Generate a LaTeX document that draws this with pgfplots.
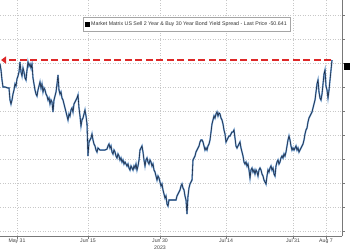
\documentclass[border=0pt]{standalone}
\usepackage{pgfplots}
\pgfplotsset{compat=1.18}
\usepackage{fontspec}
\setmainfont{Liberation Sans}
\usetikzlibrary{arrows.meta}
\definecolor{gridc}{RGB}{200,200,200}
\definecolor{axc}{RGB}{120,120,120}
\definecolor{seriesglow}{RGB}{110,155,205}
\definecolor{seriesc}{RGB}{18,32,55}
\definecolor{reddash}{RGB}{222,40,40}
\pgfplotstableread{
x y
0 -50.21
1 -51.46
2 -53.54
3 -55.00
5 -55.00
8 -55.21
9 -55.21
10 -57.71
11 -58.54
12 -57.71
13 -56.46
14 -55.63
15 -54.38
16 -54.79
17 -53.33
18 -52.71
19 -51.88
20 -49.79
21 -51.88
22 -52.71
23 -51.04
24 -51.88
25 -53.13
26 -53.54
27 -51.46
28 -49.79
29 -50.63
30 -50.21
31 -51.04
32 -50.21
33 -53.13
34 -54.38
35 -55.63
36 -56.46
37 -56.88
38 -55.63
39 -54.79
40 -53.96
41 -55.21
42 -54.38
43 -56.04
44 -55.21
45 -55.63
46 -56.46
47 -56.88
48 -57.71
49 -57.29
50 -58.54
51 -57.71
52 -58.13
53 -60.21
54 -57.71
55 -56.88
56 -56.04
57 -54.38
58 -52.50
59 -55.63
60 -56.46
61 -56.04
62 -57.29
63 -57.71
64 -58.54
65 -59.38
66 -60.21
67 -61.04
68 -61.88
69 -60.63
70 -61.04
71 -59.79
72 -59.38
73 -60.21
74 -58.54
75 -58.13
76 -57.71
77 -57.29
78 -56.67
79 -59.38
80 -61.04
81 -63.13
82 -61.88
83 -61.46
84 -60.63
85 -59.79
86 -61.04
87 -62.71
88 -69.38
89 -66.46
90 -66.04
91 -65.63
92 -64.79
93 -66.04
94 -66.88
95 -67.29
96 -68.13
97 -68.54
98 -67.71
99 -67.92
100 -68.13
102 -68.13
105 -68.13
107 -67.92
108 -67.29
109 -66.88
110 -67.71
111 -67.29
112 -68.54
113 -68.96
114 -68.13
115 -68.54
116 -69.38
117 -69.79
118 -68.96
119 -69.38
120 -70.21
121 -69.79
122 -70.63
123 -70.21
124 -71.04
125 -70.63
126 -71.04
127 -71.46
128 -71.04
129 -71.88
130 -72.29
131 -71.46
132 -71.88
133 -72.29
134 -71.46
135 -71.88
136 -71.04
137 -72.29
138 -71.46
139 -70.21
140 -68.13
141 -67.71
142 -67.29
143 -68.54
144 -70.21
145 -71.46
146 -70.21
147 -69.79
148 -70.63
149 -71.04
150 -70.21
151 -70.63
152 -71.46
153 -71.04
154 -72.29
155 -72.71
156 -73.54
157 -74.38
158 -73.54
159 -73.96
160 -74.79
161 -75.63
162 -75.21
163 -76.46
164 -77.29
165 -78.13
166 -77.71
167 -79.38
168 -79.79
169 -78.54
170 -78.54
173 -78.54
176 -78.54
177 -77.71
178 -77.29
179 -76.88
180 -76.46
181 -75.63
182 -75.21
183 -76.04
184 -76.46
185 -77.71
186 -78.54
187 -81.46
188 -77.71
189 -76.04
190 -75.21
191 -74.79
192 -74.38
193 -70.21
194 -69.79
195 -69.38
196 -68.54
197 -68.13
198 -67.71
199 -67.29
200 -66.46
201 -66.04
202 -66.04
203 -66.46
204 -67.29
205 -68.13
206 -67.71
207 -68.13
208 -67.29
209 -66.88
210 -66.04
211 -64.38
212 -62.71
213 -61.88
214 -61.04
215 -61.46
216 -60.63
217 -60.21
218 -61.04
219 -60.42
220 -60.63
221 -61.46
222 -61.88
223 -62.71
224 -63.96
225 -64.79
226 -66.46
227 -66.04
228 -65.63
229 -65.21
230 -65.21
231 -64.79
232 -64.38
233 -64.38
234 -63.96
235 -65.63
236 -67.29
237 -67.71
238 -67.29
239 -66.88
240 -66.46
241 -67.71
242 -68.54
243 -69.38
244 -70.63
245 -71.04
246 -70.63
247 -71.46
248 -71.04
249 -72.29
250 -73.96
251 -72.29
252 -71.88
253 -72.71
254 -72.29
255 -73.13
256 -72.29
257 -72.71
258 -73.54
259 -72.29
260 -71.88
261 -72.29
262 -73.13
263 -73.54
264 -74.38
265 -74.79
266 -75.21
267 -73.54
268 -72.29
269 -72.71
270 -71.88
271 -71.46
272 -72.29
273 -71.88
274 -73.13
275 -73.54
276 -71.46
277 -70.63
278 -70.21
279 -71.04
280 -70.63
281 -69.79
282 -69.38
283 -69.79
284 -68.96
285 -69.38
286 -68.54
287 -67.29
288 -66.04
289 -65.21
290 -66.04
291 -67.29
292 -68.13
293 -67.71
294 -68.13
295 -67.71
296 -67.29
297 -68.13
298 -67.71
299 -68.54
300 -68.13
301 -67.71
302 -67.29
303 -66.88
304 -66.04
305 -64.79
306 -63.96
307 -63.54
308 -62.29
309 -61.46
310 -61.04
311 -60.63
312 -60.21
313 -59.38
314 -58.54
315 -57.71
316 -56.04
317 -54.38
318 -53.54
319 -56.04
320 -57.29
321 -57.71
322 -56.46
323 -54.38
324 -52.29
325 -51.46
326 -54.79
327 -55.63
328 -57.29
329 -55.63
330 -53.54
331 -51.46
332 -49.38
}\spread
\begin{document}
\begin{tikzpicture}
\begin{axis}[
  at={(0,0)}, anchor=north west,
  scale only axis, width=342bp, height=236bp,
  xmin=0, xmax=342, ymin=-86.04, ymax=-36.875,
  axis x line*=bottom, axis y line*=right,
  axis line style={-, draw=axc, line width=0.6bp},
  xtick={17,88,160,226,293,326},
  xticklabels={May 31, Jun 15, {Jun 30\\2023}, Jul 14, Jul 31, Aug 7},
  minor x tick num=3,
  ytick={-85,-80,-75,-70,-65,-60,-55,-50,-45,-40},
  yticklabel=\empty,
  tick align=outside,
  major tick length=2.5bp, minor tick length=1.5bp,
  tick style={draw=axc, line width=0.5bp},
  xticklabel style={align=center, font=\fontsize{5.2}{6.6}\selectfont, text=black!75, inner sep=0.3bp},
  xmajorgrids, ymajorgrids,
  grid style={draw=gridc, line width=0.6bp, dash pattern=on 1bp off 1.5bp},
  clip=false,
  legend style={at={(0.2427,0.926)}, anchor=north west, draw=gray!70, fill=white,
    font=\fontsize{5.3}{6}\selectfont, text=black!80, inner xsep=1.5bp, inner ysep=2.2bp},
  legend cell align=left,
]
\addplot[seriesglow, line width=1.6bp, forget plot] table[x=x, y=y] {\spread};
\addplot[seriesc, line width=0.55bp, legend image code/.code={\fill[black] (0bp,-2bp) rectangle (4bp,2bp);}] table[x=x, y=y] {\spread};
\addlegendentry{Market Matrix US Sell 2 Year \& Buy 30 Year Bond Yield Spread - Last Price -50.641}
\addplot[reddash, line width=2bp, dash pattern=on 7bp off 3.5bp, -{Triangle[length=5bp,width=7bp]}, forget plot]
  coordinates {(331,-49.38) (1,-49.38)};
\addplot[only marks, mark=square*, mark size=3bp, black, forget plot] coordinates {(347,-50.64)};
\end{axis}
\pgfresetboundingbox
\path[use as bounding box] (0,0) rectangle (350bp,-250bp);
\end{tikzpicture}
\end{document}
